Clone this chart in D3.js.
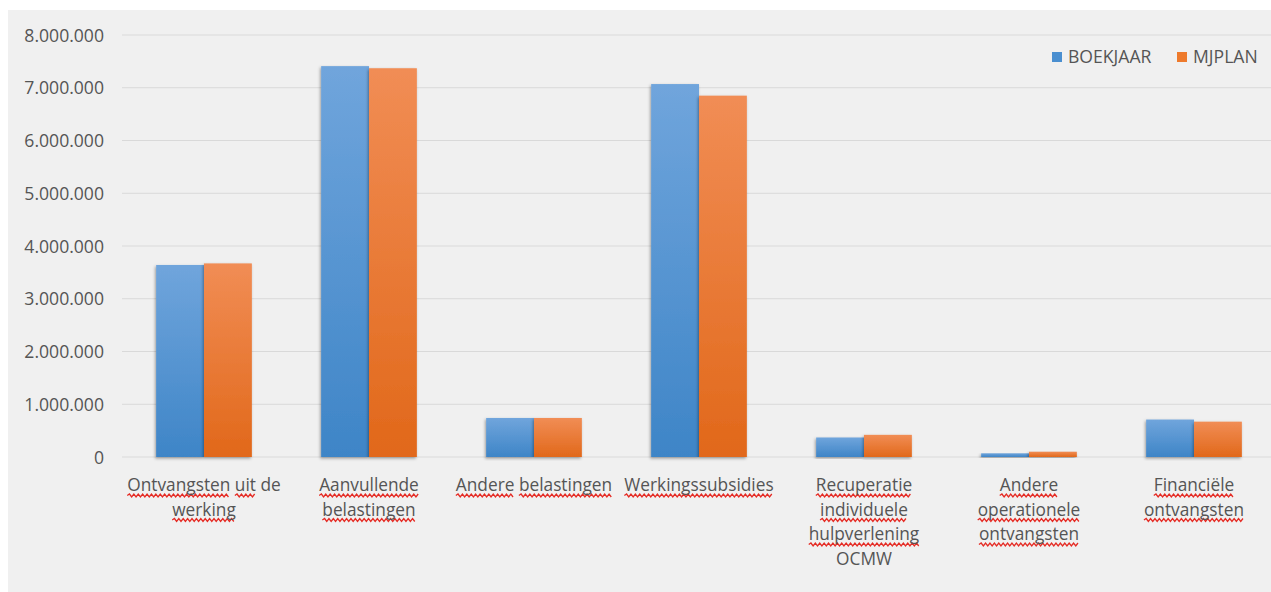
<!DOCTYPE html>
<html>
<head>
<meta charset="utf-8">
<script src="https://cdn.jsdelivr.net/npm/d3@7"></script>
<style>
  body { margin: 0; background: #fff; }
  text { font-family: "Open Sans", "Noto Sans", sans-serif; fill: #555; }
</style>
</head>
<body>
<svg id="chart"></svg>
<script>
// categorieen (met regeleinden zoals in de grafiek)
var categories = [
  "Ontvangsten uit de\nwerking",
  "Aanvullende\nbelastingen",
  "Andere belastingen",
  "Werkingssubsidies",
  "Recuperatie\nindividuele\nhulpverlening\nOCMW",
  "Andere\noperationele\nontvangsten",
  "Financiële\nontvangsten"
];
var seriesNames = ["BOEKJAAR", "MJPLAN"];
var boekjaar = [3640000, 7410000, 740000, 7070000, 370000, 70000, 710000];
var mjplan   = [3670000, 7370000, 740000, 6850000, 420000, 100000, 670000];
var yTicks = [0, 1000000, 2000000, 3000000, 4000000, 5000000, 6000000, 7000000, 8000000];
// woorden zonder rode kronkellijn
var knownWords = ["de", "OCMW"];

var W = 1271, H = 592;
var svg = d3.select("#chart").attr("width", W).attr("height", H);

var defs = svg.append("defs");
var grads = [["gBlue", "#70a5dc", "#3e85c7"], ["gOrange", "#f18d55", "#e1681a"]];
grads.forEach(function(g) {
  var lg = defs.append("linearGradient").attr("id", g[0])
    .attr("x1", 0).attr("y1", 0).attr("x2", 0).attr("y2", 1);
  lg.append("stop").attr("offset", "0%").attr("stop-color", g[1]);
  lg.append("stop").attr("offset", "100%").attr("stop-color", g[2]);
});
var f = defs.append("filter").attr("id", "shadow")
  .attr("x", "-20%").attr("y", "-5%").attr("width", "140%").attr("height", "115%");
f.append("feDropShadow").attr("dx", -1).attr("dy", 1.5)
  .attr("stdDeviation", 1.5).attr("flood-color", "#000").attr("flood-opacity", 0.35);

// achtergrond
svg.append("rect").attr("x", 8).attr("y", 10).attr("width", W - 8).attr("height", H - 10)
  .attr("fill", "#f0f0f0");

var x0 = d3.scaleBand().domain(categories).range([121.5, 1276.5])
  .paddingInner(0.42).paddingOuter(0.21);
var x1 = d3.scaleBand().domain(seriesNames).range([0, x0.bandwidth()]);
var y = d3.scaleLinear().domain([0, 8000000]).range([457, 35]);

var nl = d3.formatLocale({ decimal: ",", thousands: ".", grouping: [3], currency: ["€", ""] });
var fmt = nl.format(",.0f");

// rasterlijnen
svg.append("g").selectAll("line").data(yTicks).enter().append("line")
  .attr("x1", 122).attr("x2", W)
  .attr("y1", function(d) { return y(d); }).attr("y2", function(d) { return y(d); })
  .attr("stroke", "#d9d9d9").attr("stroke-width", 1.2);

var yAxis = d3.axisLeft(y).tickValues(yTicks).tickFormat(fmt).tickSize(0).tickPadding(0);
var ya = svg.append("g").attr("transform", "translate(104,0)").call(yAxis);
ya.select(".domain").remove();
ya.selectAll("text").style("font-size", "17.6px").attr("fill", "#555").attr("dy", "0.35em");

// staven
var data = categories.map(function(c, i) {
  return { cat: c, vals: [{ s: seriesNames[0], v: boekjaar[i] }, { s: seriesNames[1], v: mjplan[i] }] };
});
var fills = ["url(#gBlue)", "url(#gOrange)"];
svg.append("g").selectAll("g").data(data).enter().append("g")
  .attr("transform", function(d) { return "translate(" + x0(d.cat) + ",0)"; })
  .selectAll("rect").data(function(d) { return d.vals; }).enter().append("rect")
  .attr("x", function(d) { return x1(d.s); })
  .attr("width", x1.bandwidth())
  .attr("y", function(d) { return y(d.v); })
  .attr("height", function(d) { return y(0) - y(d.v); })
  .attr("fill", function(d, i) { return fills[i]; })
  .attr("filter", "url(#shadow)");

// categorie labels met kronkellijn
var wavy = svg.append("g");
function squiggle(xa, xb, yy) {
  var p = "M" + xa + "," + yy, up = true;
  for (var xx = xa + 2.2; xx <= xb; xx += 2.2) {
    p += "L" + xx + "," + (yy + (up ? -1.5 : 1.5));
    up = !up;
  }
  return p;
}
var labels = svg.append("g");
data.forEach(function(d) {
  var cx = x0(d.cat) + x0.bandwidth() / 2;
  var lines = d.cat.split("\n");
  lines.forEach(function(line, li) {
    var by = 491 + li * 24.5;
    var t = labels.append("text").attr("x", cx).attr("y", by)
      .attr("text-anchor", "middle").style("font-size", "17.3px").text(line);
    var node = t.node();
    var pos = 0;
    line.split(" ").forEach(function(w) {
      if (knownWords.indexOf(w) < 0) {
        var sx = node.getStartPositionOfChar(pos).x;
        var ex = node.getEndPositionOfChar(pos + w.length - 1).x;
        wavy.append("path").attr("d", squiggle(sx, ex, by + 4.5))
          .attr("fill", "none").attr("stroke", "#e52b24").attr("stroke-width", 1.3);
      }
      pos += w.length + 1;
    });
  });
});

// legenda
var legX = [1052, 1177];
var leg = svg.append("g");
seriesNames.forEach(function(s, i) {
  leg.append("rect").attr("x", legX[i]).attr("y", 52).attr("width", 10).attr("height", 10)
    .attr("fill", i === 0 ? "#4a8fd0" : "#ee7a2c");
  leg.append("text").attr("x", legX[i] + 16).attr("y", 63).style("font-size", "17.6px").text(s);
});
</script>
</body>
</html>
